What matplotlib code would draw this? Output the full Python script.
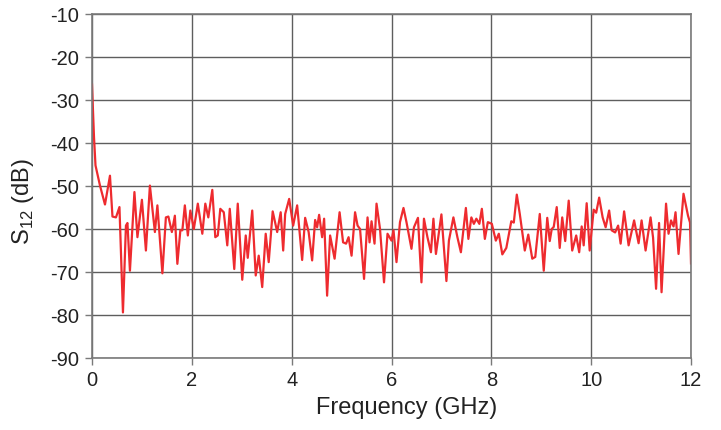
import matplotlib
matplotlib.use("Agg")
import matplotlib.pyplot as plt

# --- Data ---
freq_ghz = [
    0.00, 0.04, 0.07, 0.16, 0.26, 0.36, 0.41, 0.48, 0.55, 0.62, 0.68, 0.71, 0.76,
    0.85, 0.91, 1.00, 1.08, 1.16, 1.26, 1.31, 1.41, 1.48, 1.53, 1.60, 1.66, 1.71,
    1.77, 1.81, 1.86, 1.92, 1.97, 2.04, 2.12, 2.21, 2.27, 2.33, 2.41, 2.47, 2.52,
    2.57, 2.64, 2.71, 2.76, 2.85, 2.92, 3.01, 3.08, 3.12, 3.21, 3.28, 3.34, 3.41,
    3.48, 3.54, 3.62, 3.71, 3.78, 3.83, 3.87, 3.95, 4.03, 4.11, 4.21, 4.27, 4.34,
    4.41, 4.47, 4.51, 4.55, 4.61, 4.65, 4.71, 4.77, 4.86, 4.96, 5.03, 5.09, 5.14,
    5.20, 5.27, 5.32, 5.37, 5.45, 5.52, 5.56, 5.60, 5.66, 5.70, 5.77, 5.85, 5.92,
    6.00, 6.04, 6.10, 6.17, 6.24, 6.30, 6.40, 6.45, 6.53, 6.60, 6.65, 6.72, 6.79,
    6.84, 6.89, 7.00, 7.10, 7.15, 7.24, 7.32, 7.39, 7.49, 7.54, 7.60, 7.65, 7.70,
    7.76, 7.81, 7.87, 7.93, 8.01, 8.09, 8.15, 8.22, 8.30, 8.40, 8.45, 8.51, 8.57,
    8.67, 8.74, 8.82, 8.88, 8.97, 9.05, 9.12, 9.17, 9.21, 9.25, 9.31, 9.37, 9.42,
    9.48, 9.55, 9.62, 9.70, 9.76, 9.81, 9.85, 9.91, 9.97, 10.05, 10.10, 10.16,
    10.23, 10.29, 10.36, 10.41, 10.48, 10.54, 10.59, 10.66, 10.75, 10.86, 10.95,
    11.01, 11.09, 11.19, 11.24, 11.30, 11.36, 11.41, 11.50, 11.55, 11.60, 11.65,
    11.69, 11.75, 11.85, 11.94, 11.98, 12.00,
]
s12_db = [
    -26.4, -38.6, -45.2, -49.9, -54.3, -47.6, -57.1, -57.3, -54.9, -79.4, -59.2, -58.6, -69.7,
    -51.4, -61.9, -53.2, -65.0, -49.9, -60.7, -54.5, -70.3, -57.3, -57.1, -60.7, -56.9, -68.1,
    -60.3, -60.3, -54.5, -61.5, -55.7, -60.0, -54.1, -61.1, -54.1, -57.3, -50.9, -61.9, -61.5,
    -55.3, -56.1, -63.8, -55.3, -69.3, -54.1, -71.8, -61.5, -66.7, -55.7, -70.8, -66.2, -73.5,
    -61.1, -67.7, -55.9, -60.7, -56.1, -65.0, -56.5, -53.0, -59.2, -54.5, -67.2, -57.4, -60.7,
    -67.3, -57.9, -59.6, -56.7, -61.9, -57.6, -75.5, -61.5, -66.9, -56.1, -63.1, -63.4, -61.9,
    -66.2, -56.1, -59.2, -60.0, -71.6, -57.3, -63.1, -58.2, -63.4, -54.1, -60.0, -72.4, -61.1,
    -62.7, -60.3, -67.7, -58.4, -55.1, -58.4, -64.6, -59.6, -57.4, -72.4, -57.6, -61.9, -65.4,
    -57.6, -65.8, -56.6, -72.1, -62.7, -57.3, -61.9, -65.4, -55.1, -62.3, -57.3, -58.8, -57.6,
    -58.8, -55.3, -62.3, -58.4, -58.8, -62.7, -61.1, -65.9, -64.4, -58.2, -58.5, -52.0, -56.5,
    -65.0, -61.3, -66.9, -66.5, -56.5, -69.7, -57.4, -62.8, -60.0, -59.5, -54.9, -64.4, -57.3,
    -62.8, -53.4, -65.0, -61.5, -65.4, -59.4, -63.8, -54.0, -65.0, -55.5, -56.2, -52.7,
    -57.3, -59.6, -55.7, -60.3, -60.8, -59.2, -63.4, -55.9, -63.8, -58.0, -63.3,
    -58.0, -65.0, -57.3, -62.0, -73.9, -58.6, -74.7, -54.1, -61.1, -58.0, -59.4,
    -56.1, -65.8, -51.8, -56.9, -58.5, -68.0,
]

x_ticks = [0, 2, 4, 6, 8, 10, 12]
y_ticks = [-90, -80, -70, -60, -50, -40, -30, -20, -10]

plt.rcParams["font.family"] = ["Liberation Sans", "DejaVu Sans"]
plt.rcParams["mathtext.fontset"] = "custom"
plt.rcParams["mathtext.rm"] = "Liberation Sans"
plt.rcParams["axes.unicode_minus"] = False

fig = plt.figure(figsize=(7.21, 4.30), dpi=100)
ax = fig.add_axes([0.1276, 0.1674, 0.8308, 0.8000])

ax.plot(freq_ghz, s12_db, color="#ee2b2f", lw=1.6, solid_joinstyle="round")

ax.set_xlim(0, 12)
ax.set_ylim(-90, -10)
ax.set_xticks(x_ticks)
ax.set_yticks(y_ticks)
ax.grid(True, color="#5e5e5e", lw=1.0)
ax.set_axisbelow(True)

for sp in ax.spines.values():
    sp.set_color("#7a7a7a")
    sp.set_linewidth(1.2)
ax.tick_params(direction="out", length=5, width=1.0, color="#7a7a7a",
               labelsize=14.5, labelcolor="#222222", pad=4)

ax.set_xlabel("Frequency (GHz)", fontsize=17, color="#222222")
ax.xaxis.set_label_coords(0.526, -0.112)
ax.set_ylabel(r"S$_\mathregular{12}$ (dB)", fontsize=17, color="#222222")
ax.yaxis.set_label_coords(-0.094, 0.455)

fig.savefig("out.png", dpi=100)
